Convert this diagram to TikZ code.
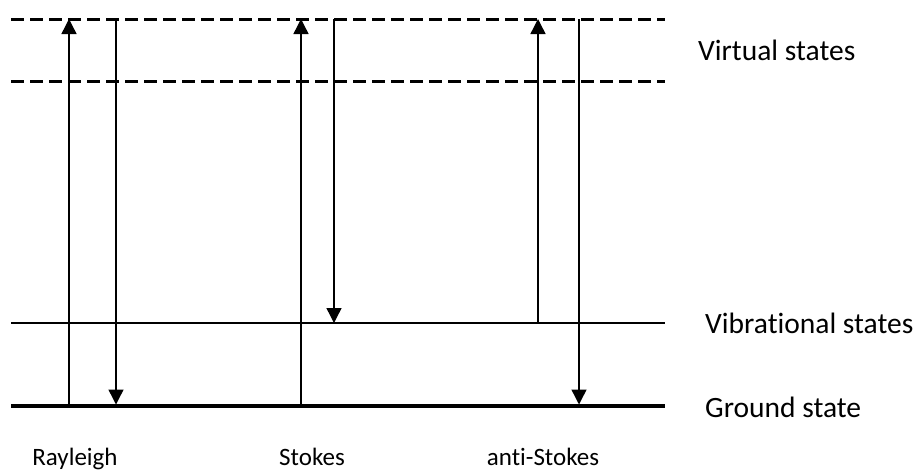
\documentclass[tikz,border=0pt]{standalone}
\usepackage{fontspec}
\setmainfont{Carlito}[Ligatures=NoCommon]
\usetikzlibrary{arrows.meta}
\begin{document}
\begin{tikzpicture}[x=1pt,y=-1pt,
  virtual/.style={line width=3pt,dash pattern=on 13pt off 6pt},
  vib/.style={line width=1.4pt},
  ground/.style={line width=3.2pt},
  trans/.style={line width=1.4pt,-{Triangle[width=15pt,length=15pt]}},
  lab/.style={font=\fontsize{29.5}{34}\selectfont,anchor=base west,inner sep=0pt},
  blab/.style={font=\fontsize{25}{29}\selectfont,anchor=base,inner sep=0pt}]
\useasboundingbox (0,0) rectangle (917,469);
% levels
\coordinate (v1l) at (11,19);  \coordinate (v1r) at (665,19);
\coordinate (v2l) at (11,81);  \coordinate (v2r) at (665,81);
\coordinate (vbl) at (11,323); \coordinate (vbr) at (665,323);
\coordinate (gl) at (11,406);  \coordinate (gr) at (665,406);
\draw[virtual] (v1l) -- (v1r);
\draw[virtual] (v2l) -- (v2r);
\draw[vib] (vbl) -- (vbr);
\draw[ground] (gl) -- (gr);
% transition endpoints
\coordinate (r1b) at (69,404);  \coordinate (r1t) at (69,19);
\coordinate (r2t) at (116,19);  \coordinate (r2b) at (116,404.5);
\coordinate (s1b) at (301,404); \coordinate (s1t) at (301,19);
\coordinate (s2t) at (334,19);  \coordinate (s2b) at (334,323);
\coordinate (a1b) at (538,323); \coordinate (a1t) at (538,19);
\coordinate (a2t) at (579,19);  \coordinate (a2b) at (579,404.5);
\draw[trans] (r1b) -- (r1t);
\draw[trans] (r2t) -- (r2b);
\draw[trans] (s1b) -- (s1t);
\draw[trans] (s2t) -- (s2b);
\draw[trans] (a1b) -- (a1t);
\draw[trans] (a2t) -- (a2b);
% labels
\node[lab] (tv) at (698,60) {Virtual states};
\node[lab] (tvb) at (705,333) {Vibrational states};
\node[lab] (tg) at (705,417) {Ground state};
\node[blab] (tr) at (75,465) {Rayleigh};
\node[blab] (ts) at (312,465) {Stokes};
\node[blab] (ta) at (543,465) {anti-Stokes};
\end{tikzpicture}
\end{document}
